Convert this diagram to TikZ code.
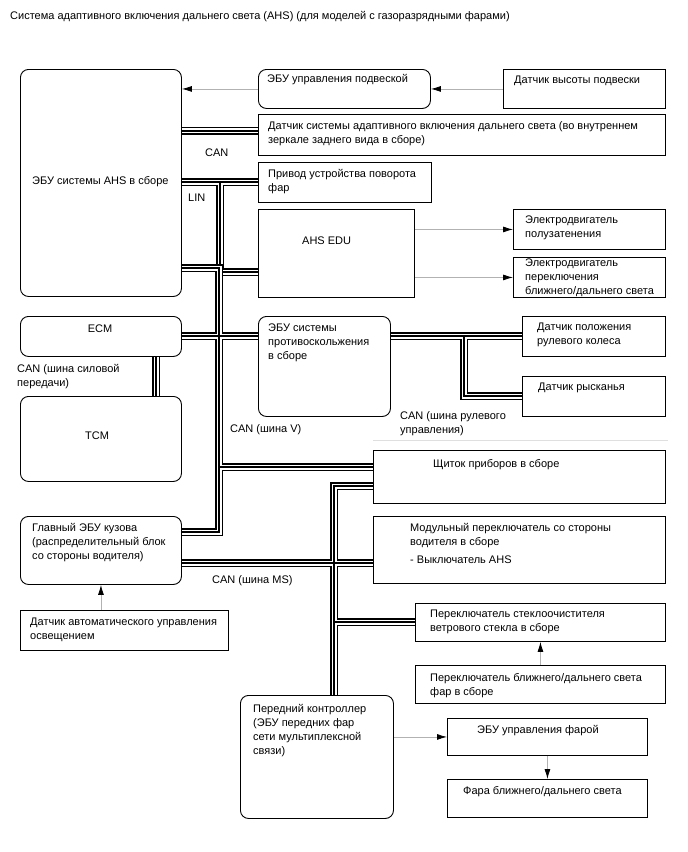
\documentclass[tikz,border=0pt]{standalone}
\usepackage{fontspec}
\setmainfont{Liberation Sans}
\usetikzlibrary{arrows.meta}

\begin{document}
\begin{tikzpicture}[x=1pt,y=-1pt,font=\fontsize{11}{14}\selectfont,
	box/.style={draw,line width=0.9pt,anchor=north west,inner sep=0pt},
	rbox/.style={box,rounded corners=8pt},
	txt/.style={anchor=north west,inner sep=0pt,align=left,yshift=-2pt},
	sig/.style={draw=gray!60,line width=0.8pt,-{Latex[length=10pt,width=6pt,black]}},
	bus/.style={draw=black,line width=8pt,postaction={draw=white,line width=5pt},postaction={draw=black,line width=2pt}}]
\fill[white] (0,0) rectangle (688,852);
\useasboundingbox (0,0) rectangle (688,852);
\node[txt] (title) at (10,9.5) {Система адаптивного включения дальнего света (AHS) (для моделей с газоразрядными фарами)};

\node[rbox,minimum width=161pt,minimum height=227pt] (ahs) at (20,69) {};
\node[rbox,minimum width=172pt,minimum height=39pt] (susp) at (258,69) {};
\node[box,minimum width=162pt,minimum height=39pt] (height) at (503,69) {};
\node[box,minimum width=407pt,minimum height=41pt] (mirror) at (258,114) {};
\node[box,minimum width=173pt,minimum height=40pt] (swivel) at (258,162) {};
\node[box,minimum width=156pt,minimum height=88pt] (edu) at (258,209) {};
\node[box,minimum width=152pt,minimum height=40pt] (lev) at (513,209) {};
\node[box,minimum width=152pt,minimum height=40pt] (hilo) at (513,257) {};
\node[rbox,minimum width=161pt,minimum height=40pt] (ecm) at (20,316) {};
\node[rbox,minimum width=161pt,minimum height=85pt] (tcm) at (20,396) {};
\node[rbox,minimum width=132pt,minimum height=100pt] (abs) at (258,316) {};
\node[box,minimum width=143pt,minimum height=40pt] (steer) at (522,316) {};
\node[box,minimum width=143pt,minimum height=40pt] (yaw) at (522,376) {};
\node[box,minimum width=292pt,minimum height=53pt] (meter) at (373,450) {};
\node[box,minimum width=292pt,minimum height=67pt] (comb) at (373,516) {};
\node[rbox,minimum width=161pt,minimum height=68pt] (body) at (20,516) {};
\node[box,minimum width=208pt,minimum height=40pt] (light) at (20,610) {};
\node[box,minimum width=250pt,minimum height=38pt] (wiper) at (415,603) {};
\node[box,minimum width=250pt,minimum height=38pt] (dimmer) at (415,665) {};
\node[rbox,minimum width=153pt,minimum height=123pt] (front) at (240,695) {};
\node[box,minimum width=200pt,minimum height=37pt] (hlecu) at (447,718) {};
\node[box,minimum width=200pt,minimum height=38pt] (lamp) at (447,779) {};

\node[txt] (t-ahs) at (32,174.5) {ЭБУ системы AHS в сборе};
\node[txt] (t-susp) at (267,72.5) {ЭБУ управления подвеской};
\node[txt] (t-height) at (514,73.5) {Датчик высоты подвески};
\node[txt] (t-mirror) at (268,119.5) {Датчик системы адаптивного включения дальнего света (во внутреннем\\зеркале заднего вида в сборе)};
\node[txt] (t-swivel) at (268,167.5) {Привод устройства поворота\\фар};
\node[txt] (t-edu) at (302,234.5) {AHS EDU};
\node[txt] (t-lev) at (525,214) {Электродвигатель\\полузатенения};
\node[txt] (t-hilo) at (525,256.5) {Электродвигатель\\переключения\\ближнего/дальнего света};
\node[txt,anchor=north] (t-ecm) at (100,322.5) {ECM};
\node[txt,anchor=north] (t-tcm) at (97,429.5) {TCM};
\node[txt] (t-abs) at (268,321.5) {ЭБУ системы\\противоскольжения\\в сборе};
\node[txt] (t-steer) at (537,320.5) {Датчик положения\\рулевого колеса};
\node[txt] (t-yaw) at (538,380.5) {Датчик рысканья};
\node[txt] (t-meter) at (433,457.5) {Щиток приборов в сборе};
\node[txt] (t-comb) at (410,521.5) {Модульный переключатель со стороны\\водителя в сборе\\[4pt]- Выключатель AHS};
\node[txt] (t-body) at (32,521.5) {Главный ЭБУ кузова\\(распределительный блок\\со стороны водителя)};
\node[txt] (t-light) at (30,615.5) {Датчик автоматического управления\\освещением};
\node[txt] (t-wiper) at (430,607.5) {Переключатель стеклоочистителя\\ветрового стекла в сборе};
\node[txt] (t-dimmer) at (430,671.5) {Переключатель ближнего/дальнего света\\фар в сборе};
\node[txt] (t-front) at (253,702.5) {Передний контроллер\\(ЭБУ передних фар\\сети мультиплексной\\связи)};
\node[txt] (t-hlecu) at (477,723.5) {ЭБУ управления фарой};
\node[txt] (t-lamp) at (463,784.5) {Фара ближнего/дальнего света};

\node[txt] (l-can) at (205,146.5) {CAN};
\node[txt] (l-lin) at (188,191.5) {LIN};
\node[txt] (l-pt) at (17,362.5) {CAN (шина силовой\\передачи)};
\node[txt] (l-v) at (230,422.5) {CAN (шина V)};
\node[txt] (l-steer) at (400,409.5) {CAN (шина рулевого\\управления)};
\node[txt] (l-ms) at (212,573.5) {CAN (шина MS)};

\coordinate (lin) at (220,0);
\coordinate (vtop) at (219,268);
\coordinate (vbot) at (219,532);
\coordinate (vm) at (219,467);
\coordinate (sb) at (464,0);
\coordinate (pt) at (156,0);
\coordinate (ms) at (334,486);
\coordinate (msh) at (334,563);

\draw[bus] (ahs.east |- mirror.west) ++(0,-4) -- ([yshift=4pt]mirror.west);
\draw[bus] (ahs.east |- swivel.west) -- (swivel.west) (lin |- swivel.west) |- ([yshift=-19pt]edu.west);
\draw[bus] (ahs.east |- vtop) -- (vtop) -- (vbot) -- (body.east |- vbot)
	(ecm.east) -- (abs.west |- ecm.east) (vm) -- (meter.west |- vm);
\draw[bus] (abs.east |- steer.west) -- (steer.west) (sb |- steer.west) |- (yaw.west);
\draw[bus] (pt |- ecm.south) -- (pt |- tcm.north);
\draw[bus] (meter.west |- ms) -- (ms) -- (ms |- front.north)
	(body.east |- msh) -- (comb.west |- msh) (ms |- wiper.west) -- (wiper.west);

\draw[sig] (height.west) -- (susp.east |- height.west);
\draw[sig] (susp.west) -- (ahs.east |- susp.west);
\draw[sig] (edu.east |- lev.west) -- (lev.west);
\draw[sig] (edu.east |- hilo.west) -- (hilo.west);
\draw[sig] (body.south |- light.north) -- (body.south);
\draw[sig] (dimmer.north -| wiper.south) -- (wiper.south);
\draw[sig] (front.east |- hlecu.west) -- (hlecu.west);
\draw[sig] (hlecu.south -| lamp.north) -- (lamp.north);
\draw[gray!25] (373,440) -- (668,440);
\end{tikzpicture}
\end{document}
